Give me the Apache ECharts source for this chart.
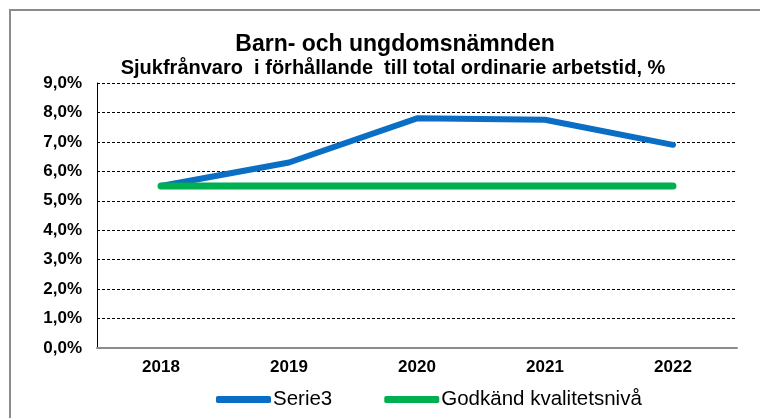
<!DOCTYPE html>
<html>
<head>
<meta charset="utf-8">
<script src="https://cdn.jsdelivr.net/npm/echarts@6/dist/echarts.min.js"></script>
<style>
  html, body { margin: 0; padding: 0; background: #fff; }
  #chart { width: 760px; height: 418px; }
</style>
</head>
<body>
<div id="chart"></div>
<script>
var years = ['2018', '2019', '2020', '2021', '2022'];
var serie3 = [5.5, 6.3, 7.8, 7.75, 6.9];
var godkand = [5.5, 5.5, 5.5, 5.5, 5.5];

var chart = echarts.init(document.getElementById('chart'));
var font = 'Liberation Sans, Arial, sans-serif';

chart.setOption({
  animation: false,
  backgroundColor: '#fff',
  graphic: [{
    type: 'rect',
    shape: { x: 10, y: 10, width: 780, height: 440 },
    style: { fill: 'none', stroke: '#8c8c8c', lineWidth: 2 },
    silent: true
  }],
  title: [{
    text: 'Barn- och ungdomsnämnden',
    left: 390, top: 28, textAlign: 'center',
    textStyle: { fontFamily: font, fontSize: 23, fontWeight: 'bold', color: '#000' }
  }, {
    text: 'Sjukfrånvaro  i förhållande  till total ordinarie arbetstid, %',
    left: 388, top: 53, textAlign: 'center',
    textStyle: { fontFamily: font, fontSize: 20, fontWeight: 'bold', color: '#000' }
  }],
  legend: {
    top: 384, left: 211,
    icon: 'roundRect',
    itemWidth: 55, itemHeight: 7, itemGap: 52,
    textStyle: { fontFamily: font, fontSize: 20.5, color: '#000', padding: [0, 0, 0, -3] },
    data: ['Serie3', 'Godkänd kvalitetsnivå']
  },
  grid: { left: 97, right: 23, top: 83, bottom: 70, containLabel: false },
  xAxis: {
    type: 'category',
    data: years,
    boundaryGap: true,
    axisLine: { lineStyle: { color: '#8c8c8c', width: 2 } },
    axisTick: { show: false },
    axisLabel: { fontFamily: font, fontSize: 17, fontWeight: 'bold', color: '#000', margin: 11 }
  },
  yAxis: {
    type: 'value',
    min: 0, max: 9, interval: 1,
    axisLine: { show: true, lineStyle: { color: '#000', width: 1 } },
    axisTick: { show: false },
    axisLabel: {
      fontFamily: font, fontSize: 17, fontWeight: 'bold', color: '#000', margin: 15,
      formatter: function (v) { return v.toFixed(1).replace('.', ',') + '%'; }
    },
    splitLine: { lineStyle: { color: '#000', type: [3, 2], width: 1 } }
  },
  series: [{
    name: 'Serie3',
    type: 'line',
    data: serie3,
    symbol: 'none',
    z: 3,
    lineStyle: { color: '#0a6ec4', width: 6, cap: 'round', join: 'round' },
    itemStyle: { color: '#0a6ec4' }
  }, {
    name: 'Godkänd kvalitetsnivå',
    type: 'line',
    data: godkand,
    symbol: 'none',
    z: 4,
    lineStyle: { color: '#00b050', width: 7, cap: 'round' },
    itemStyle: { color: '#00b050' }
  }]
});
</script>
</body>
</html>
